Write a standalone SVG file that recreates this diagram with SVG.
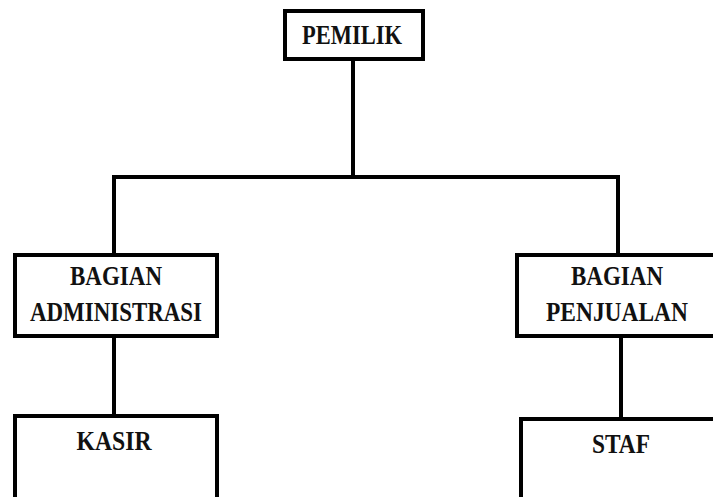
<svg xmlns="http://www.w3.org/2000/svg" width="713" height="497" viewBox="0 0 713 497">
<style>
.box{fill:#fff;stroke:#000;stroke-width:4}
.ln{fill:none;stroke:#000;stroke-width:4}
text{font-family:"Liberation Serif","Times New Roman",serif;font-weight:bold;font-size:27px;fill:#111;text-anchor:middle}
</style>
<rect width="713" height="497" fill="#fff"/>
<g id="connectors">
<line class="ln" x1="353" y1="60" x2="353" y2="177"/>
<polyline class="ln" points="114,254 114,177 618,177 618,254"/>
<line class="ln" x1="114" y1="336" x2="114" y2="416"/>
<line class="ln" x1="621" y1="336" x2="621" y2="418"/>
</g>
<g id="pemilik">
<rect class="box" x="285" y="11" width="138" height="48"/>
<text x="352" y="44" textLength="100" lengthAdjust="spacingAndGlyphs">PEMILIK</text>
</g>
<g id="administrasi">
<rect class="box" x="15" y="255" width="202" height="81"/>
<text x="116" y="285" textLength="92" lengthAdjust="spacingAndGlyphs">BAGIAN</text>
<text x="116" y="321" textLength="172" lengthAdjust="spacingAndGlyphs">ADMINISTRASI</text>
</g>
<g id="penjualan">
<rect class="box" x="517" y="255" width="210" height="81"/>
<text x="617" y="285" textLength="92" lengthAdjust="spacingAndGlyphs">BAGIAN</text>
<text x="617" y="321" textLength="142" lengthAdjust="spacingAndGlyphs">PENJUALAN</text>
</g>
<g id="kasir">
<rect class="box" x="15" y="416" width="202" height="100"/>
<text x="114" y="450" textLength="75" lengthAdjust="spacingAndGlyphs">KASIR</text>
</g>
<g id="staf">
<rect class="box" x="521" y="419" width="210" height="100"/>
<text x="621" y="453" textLength="58" lengthAdjust="spacingAndGlyphs">STAF</text>
</g>
</svg>
